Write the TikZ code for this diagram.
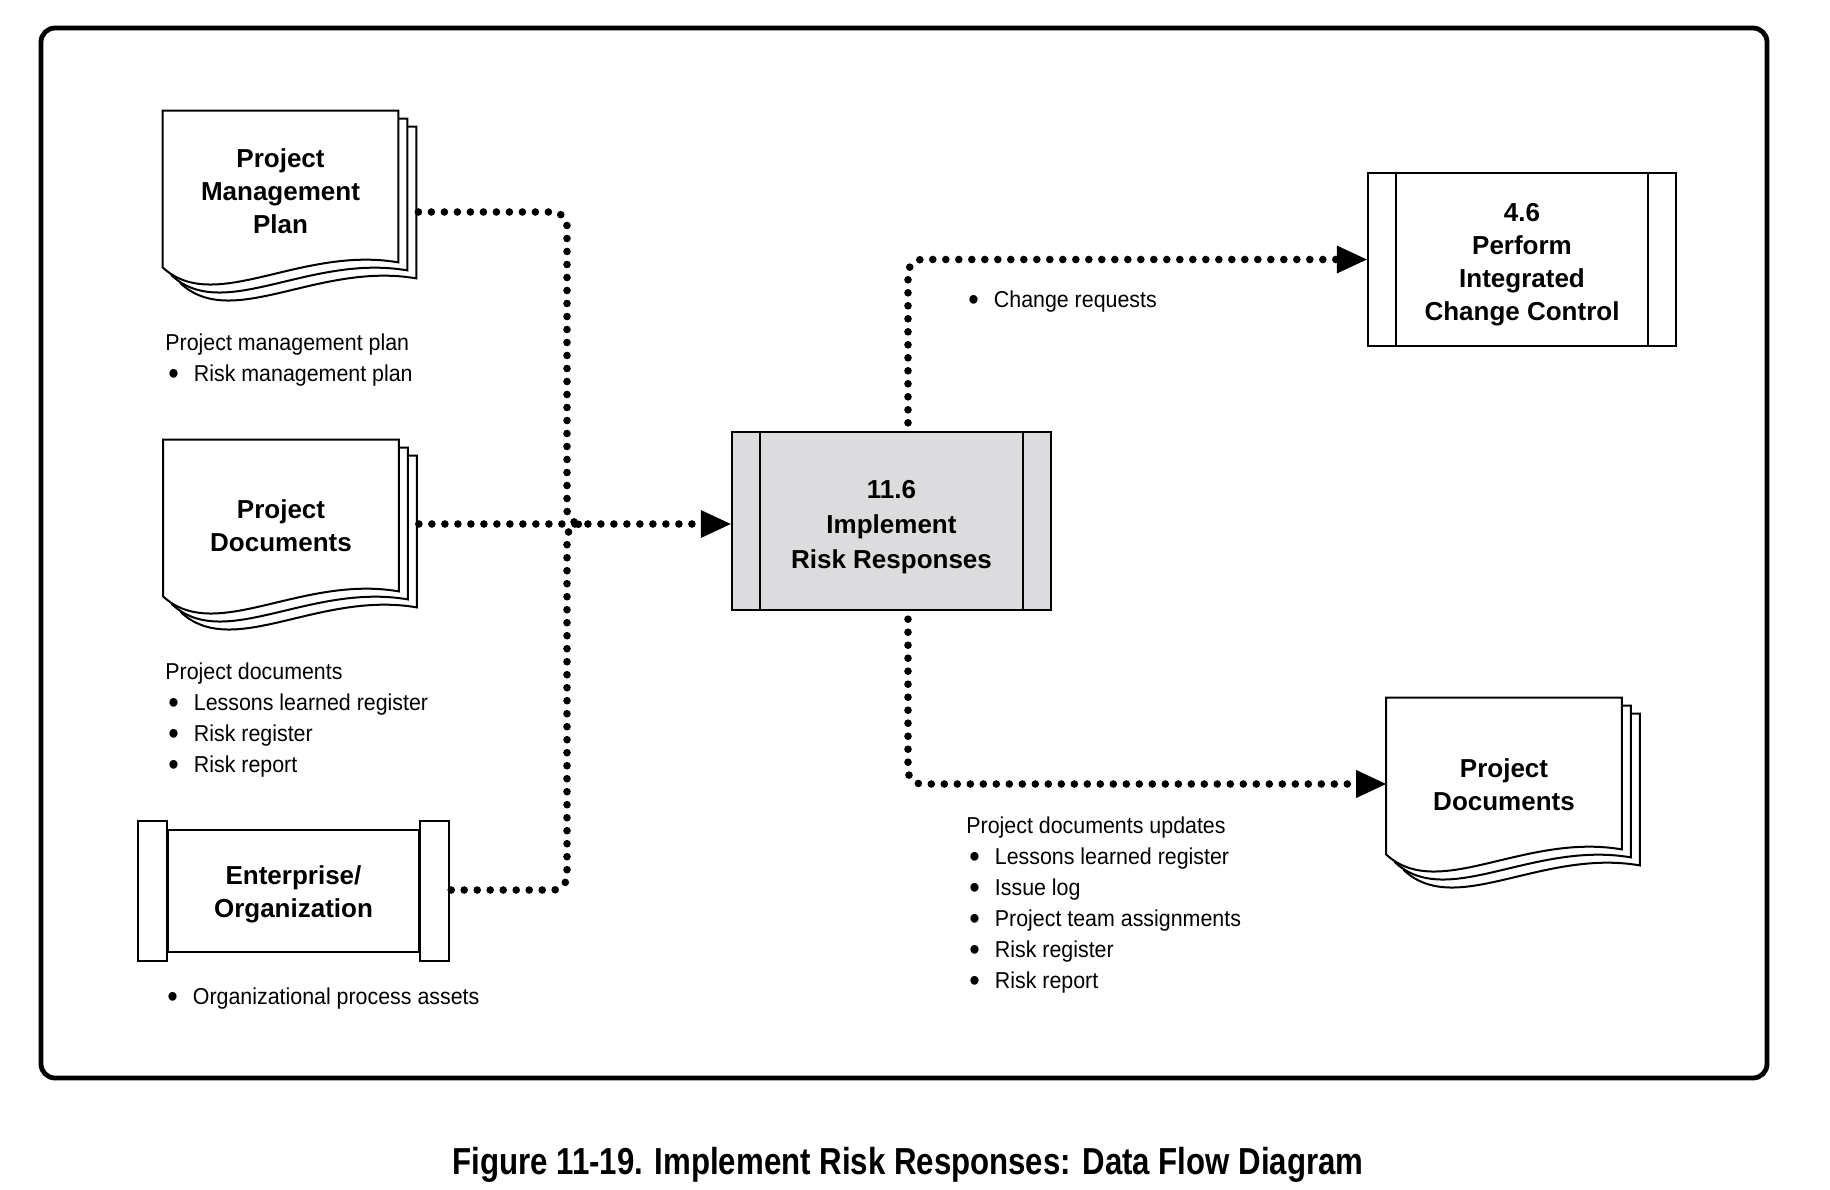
\documentclass[tikz,border=0pt]{standalone}
\usepackage{fontspec}
\setmainfont{Liberation Sans}
\newfontfamily\listfont{Liberation Sans}[FakeStretch=0.93]
\newfontfamily\captionfont{Liberation Sans}[FakeStretch=0.83]
\usetikzlibrary{arrows.meta, backgrounds}

\definecolor{procgray}{RGB}{220,220,222}

\tikzstyle{docpage} = [
    rectangle,
    minimum width=117.5pt,
    minimum height=78pt,
    inner sep=0pt,
    align=center,
    font=\bfseries\fontsize{13}{16.5}\selectfont
]
\tikzstyle{process} = [
    rectangle,
    draw=black,
    line width=1.2pt,
    inner sep=0pt,
    align=center,
    font=\bfseries\fontsize{13}{16.5}\selectfont
]
\tikzstyle{enterprise} = [
    rectangle,
    draw=black,
    line width=1.2pt,
    minimum width=125.5pt,
    minimum height=61pt,
    inner sep=0pt,
    align=center,
    font=\bfseries\fontsize{13}{16.5}\selectfont
]
\tikzstyle{listtext} = [
    anchor=north west,
    inner sep=0pt,
    align=left,
    font=\listfont\fontsize{11.5}{15.5}\selectfont
]
\tikzstyle{dotflow} = [
    line width=3.8pt,
    line cap=round,
    dash pattern=on 0pt off 6.5pt,
    rounded corners=7pt
]
\tikzstyle{arrow} = [-{Triangle[length=15pt,width=14pt,line width=0pt]}]

% bullet item inside a label
\newcommand{\itm}[1]{\hspace*{1.5pt}\makebox[12.75pt][l]{\raisebox{-1.6pt}{\scalebox{1.4}{\textbullet}}}#1}
% first-line strut, pushes a box text down
\newcommand{\tstrut}[1]{\rule{0pt}{#1}}

% stacked pages behind a document node
\newcommand{\docstack}[1]{%
  \begin{scope}[on background layer]
    \foreach \dx/\dy in {9pt/-8pt, 4.5pt/-4pt, 0pt/0pt}{
      \draw[line width=1pt, fill=white]
        ([shift={(\dx,\dy)}]#1.north west) -- ([shift={(\dx,\dy)}]#1.north east)
        -- ([shift={(\dx,\dy)},yshift=2.5pt]#1.south east)
        .. controls ([shift={(\dx,\dy)},xshift=-49pt,yshift=11pt]#1.south east)
        and ([shift={(\dx,\dy)},xshift=26pt,yshift=-24pt]#1.south west)
        .. ([shift={(\dx,\dy)}]#1.south west) -- cycle;
    }
  \end{scope}}

% inner side lines of a process box
\newcommand{\sidebars}[1]{%
  \draw[line width=1.2pt] ([xshift=14.5pt]#1.north west) -- ([xshift=14.5pt]#1.south west);
  \draw[line width=1.2pt] ([xshift=-14.5pt]#1.north east) -- ([xshift=-14.5pt]#1.south east);}

% end caps of the enterprise box
\newcommand{\entcaps}[1]{%
  \draw[line width=1.2pt, fill=white] ([xshift=-14.5pt,yshift=4pt]#1.north west) rectangle ([yshift=-4pt]#1.south west);
  \draw[line width=1.2pt, fill=white] ([yshift=4pt]#1.north east) rectangle ([xshift=14.5pt,yshift=-4pt]#1.south east);}

\begin{document}
\begin{tikzpicture}[x=0.5pt, y=-0.5pt]

\useasboundingbox (0,0) rectangle (1830,1189);
\begin{scope}[on background layer]
\fill[white] (0,0) rectangle (1830,1189);
\end{scope}

% frame
\draw[line width=2.4pt, rounded corners=7pt] (41,28) rectangle (1767,1078);

% inputs
\node (pmp) [docpage] at (280.5,189) {\tstrut{11.8pt}Project\\Management\\Plan};
\docstack{pmp}

\node (pd) [docpage] at (281,518) {\tstrut{17.4pt}Project\\Documents};
\docstack{pd}

\node (ent) [enterprise] at (293.5,891) {\tstrut{12.9pt}Enterprise/\\Organization};
\entcaps{ent}

% process
\node (impl) [process, fill=procgray, minimum width=159.5pt, minimum height=89pt,
    font=\bfseries\fontsize{13}{17.5}\selectfont] at (891.5,521)
{\tstrut{15.4pt}11.6\\Implement\\Risk Responses};
\sidebars{impl}

% outputs
\node (cc) [process, minimum width=154pt, minimum height=86.5pt] at (1522,259.5)
{\tstrut{14.4pt}4.6\\Perform\\Integrated\\Change Control};
\sidebars{cc}

\node (pdout) [docpage] at (1504,776) {\tstrut{17.9pt}Project\\Documents};
\docstack{pdout}

% labels
\node (pmplabel) [listtext] at (165,333)
{Project management plan\\\itm{Risk management plan}};
\node (pdlabel) [listtext] at (165,662)
{Project documents\\\itm{Lessons learned register}\\\itm{Risk register}\\\itm{Risk report}};
\node (entlabel) [listtext] at (164,987) {\itm{Organizational process assets}};
\node (crlabel) [listtext] at (965,290) {\itm{Change requests}};
\node (pdoutlabel) [listtext] at (966,816)
{Project documents updates\\\itm{Lessons learned register}\\\itm{Issue log}\\\itm{Project team assignments}\\\itm{Risk register}\\\itm{Risk report}};

\node (caption) [anchor=base, inner sep=0pt,
    font=\captionfont\bfseries\fontsize{18.8}{22}\selectfont] at (908,1174)
{Figure 11-19. Implement Risk Responses: Data Flow Diagram};

% flows
\coordinate (merge) at (567,524);
\coordinate (merge-end) at (582,524);
\coordinate (pmp-out) at ([xshift=10pt,yshift=-11.5pt]pmp.east);
\coordinate (pd-out) at ([xshift=10pt,yshift=-3pt]pd.east);
\coordinate (ent-out) at ([xshift=15.5pt,yshift=0.5pt]ent.east);

\draw [dotflow] (pmp-out) -| (merge) -- (merge-end);
\draw [dotflow] (ent-out) -| (merge) -- (merge-end);
\draw [dotflow, arrow] (pd-out) -- (pd-out -| impl.west);
\draw [dotflow, arrow] ([xshift=8.25pt,yshift=4pt]impl.north) |- (cc.west);
\draw [dotflow, arrow] ([xshift=8.25pt,yshift=-4pt]impl.south) |- ([yshift=-4pt]pdout.west);

\end{tikzpicture}
\end{document}
